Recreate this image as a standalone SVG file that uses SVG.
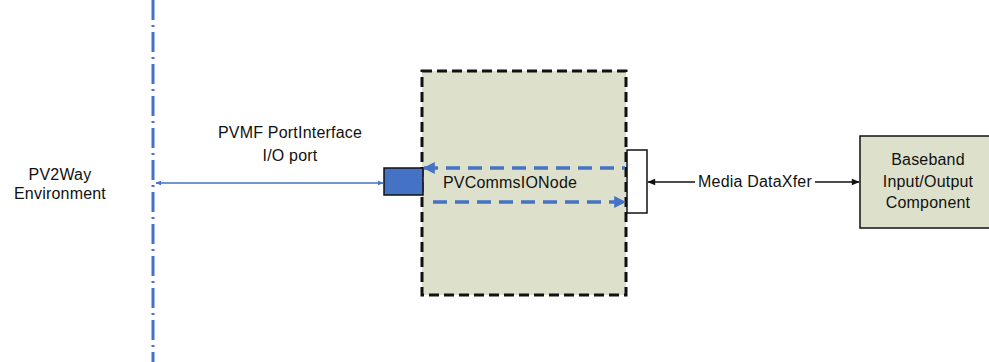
<svg xmlns="http://www.w3.org/2000/svg" width="989" height="362" viewBox="0 0 989 362">
<style>
text{font-family:"Liberation Sans",Arial,sans-serif;font-size:16px;letter-spacing:0.2px;fill:#111;text-anchor:middle}
.blue{stroke:#4472c4;fill:none}
</style>
<defs>
<marker id="ba" viewBox="0 0 10 10" refX="9" refY="5" markerWidth="6" markerHeight="6" orient="auto-start-reverse" markerUnits="userSpaceOnUse"><path d="M0,1L10,5L0,9z" fill="#4472c4"/></marker>
<marker id="bb" viewBox="0 0 10 10" refX="9" refY="5" markerWidth="12" markerHeight="12" orient="auto-start-reverse" markerUnits="userSpaceOnUse"><path d="M0,0L10,5L0,10z" fill="#4472c4"/></marker>
<marker id="ka" viewBox="0 0 10 10" refX="9" refY="5" markerWidth="9" markerHeight="8" orient="auto-start-reverse" markerUnits="userSpaceOnUse"><path d="M0,1L10,5L0,9z" fill="#111"/></marker>
</defs>
<rect width="989" height="362" fill="#fff"/>
<line x1="153" y1="0" x2="153" y2="362" stroke="#4472c4" stroke-width="3" stroke-dasharray="20,5,2,5"/>
<g id="env"><text x="60" y="180">PV2Way</text><text x="60" y="199">Environment</text></g>
<g id="portlabel"><text x="290" y="138">PVMF PortInterface</text><text x="290" y="161">I/O port</text></g>
<g id="node">
<rect x="422" y="71" width="204" height="224" fill="#dde1cb" stroke="#111" stroke-width="3" stroke-dasharray="10,5"/>
<text x="510" y="188">PVCommsIONode</text>
</g>
<g id="ioport"><rect x="384" y="168" width="39" height="27" fill="#4472c4" stroke="#111" stroke-width="1.5"/></g>
<g id="mport"><rect x="627" y="150" width="20" height="63" fill="#fff" stroke="#111" stroke-width="1.5"/></g>
<g id="baseband">
<rect x="860" y="136" width="132" height="92" fill="#dde1cb" stroke="#111" stroke-width="1.5"/>
<text x="928" y="165">Baseband</text><text x="928" y="187">Input/Output</text><text x="928" y="208">Component</text>
</g>
<g id="connectors">
<line class="blue" x1="156" y1="183" x2="383" y2="183" stroke-width="1.5" marker-start="url(#ba)" marker-end="url(#ba)"/>
<line class="blue" x1="424" y1="168" x2="625" y2="168" stroke-width="3.5" stroke-dasharray="14,8" marker-start="url(#bb)"/>
<line class="blue" x1="433" y1="202" x2="625" y2="202" stroke-width="3.5" stroke-dasharray="14,8" marker-end="url(#bb)"/>
<line x1="648" y1="182" x2="859" y2="182" stroke="#111" stroke-width="1.5" marker-start="url(#ka)" marker-end="url(#ka)"/>
<rect x="695" y="172" width="120" height="20" fill="#fff"/>
<text x="755" y="187">Media DataXfer</text>
</g>
</svg>
